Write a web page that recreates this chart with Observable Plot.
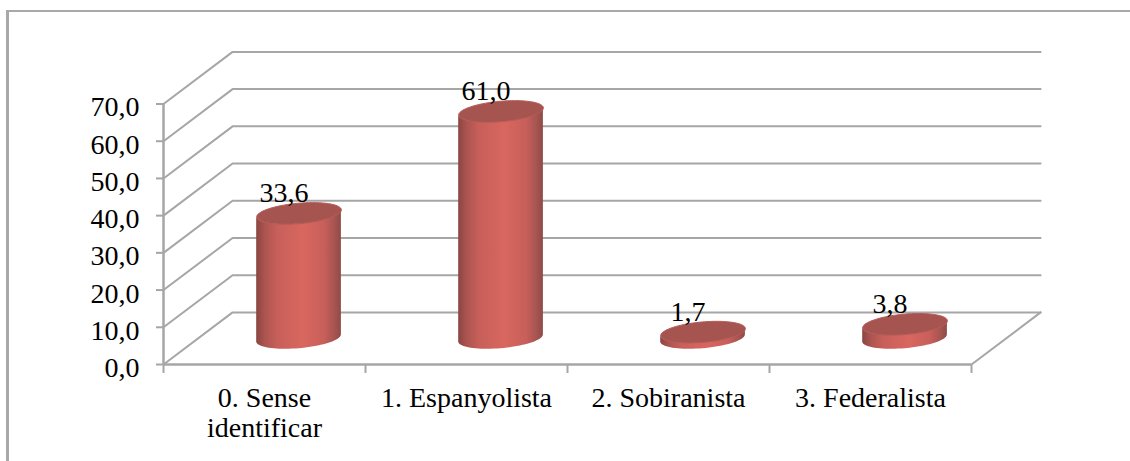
<!DOCTYPE html>
<html><head><meta charset="utf-8">
<style>
html,body{margin:0;padding:0;background:#fff;overflow:hidden}
#chart{position:relative;width:1130px;height:461px}
#frame{position:absolute;left:6px;top:10px;right:0;bottom:0;border-left:3px solid #a9a9a9;border-top:2px solid #a9a9a9}
#chart svg{position:absolute;left:0;top:0;overflow:visible}
</style>
<script src="https://cdn.jsdelivr.net/npm/d3@7"></script>
<script src="https://cdn.jsdelivr.net/npm/@observablehq/plot@0.6"></script>
</head><body>
<div id="chart"><div id="frame"></div></div>
<script>
const categories = ["0. Sense\nidentificar", "1. Espanyolista", "2. Sobiranista", "3. Federalista"];
const values = [33.6, 61.0, 1.7, 3.8];
const valueTicks = [0, 10, 20, 30, 40, 50, 60, 70];
const slots = [0, 1, 2, 3];
const slotEdges = [0, 1, 2, 3, 4];

// 3D depth of the chart box, in scale units
const depthX = 0.342, depthY = 14;
const comma = d => d.toFixed(1).replace(".", ",");

const W = 1130, H = 461, mL = 163, mR = 159, mT = 103.5, mB = 97;
const pxX = (W - mL - mR) / 4, pxY = (H - mT - mB) / 70;

// cylinder geometry (px, tilted ellipse)
const rx = 42.5, ry = 10.2, tilt = -5 * Math.PI / 180;
const t0 = Math.atan2(-ry * Math.sin(tilt), rx * Math.cos(tilt));
const arc = d3.range(0, 41).map(i => {
  const t = t0 + Math.PI * (1 - i / 40);
  return {
    ox: rx * Math.cos(t) * Math.cos(tilt) - ry * Math.sin(t) * Math.sin(tilt),
    oy: rx * Math.cos(t) * Math.sin(tilt) + ry * Math.sin(t) * Math.cos(tilt)
  };
});
const centerX = i => i + 0.5 + depthX / 2;
const base = depthY / 2;

const grid = valueTicks.flatMap(v => [
  {v, x: 0, y: v},
  {v, x: depthX, y: v + depthY},
  {v, x: 4 + depthX, y: v + depthY}
]);
const floorEdge = [{x: 4, y: 0}, {x: 4 + depthX, y: depthY}];
const bodies = slots.flatMap(i => arc.map(p => ({
  i,
  x: centerX(i) + p.ox / pxX,
  y1: base - p.oy / pxY,
  y2: base - p.oy / pxY + values[i]
})));
const tops = slots.map(i => ({i, x: centerX(i), y: base + values[i], label: comma(values[i])}));

const ellipse = {
  draw(ctx, size) {
    const k = Math.sqrt(size / Math.PI) / rx;
    for (let j = 0; j <= 72; ++j) {
      const t = j / 72 * 2 * Math.PI;
      const X = k * (rx * Math.cos(t) * Math.cos(tilt) - ry * Math.sin(t) * Math.sin(tilt));
      const Y = k * (rx * Math.cos(t) * Math.sin(tilt) + ry * Math.sin(t) * Math.cos(tilt));
      j ? ctx.lineTo(X, Y) : ctx.moveTo(X, Y);
    }
    ctx.closePath();
  }
};

const defs = () => {
  const d = d3.create("svg:defs");
  const g = d.append("linearGradient").attr("id", "cyl").attr("x1", 0).attr("x2", 1).attr("y1", 0).attr("y2", 0);
  [[0, "#8a4542"], [0.1, "#ac5450"], [0.25, "#c85f5a"], [0.55, "#d8675f"], [0.8, "#c85f5a"], [0.93, "#a55450"], [1, "#8f4a47"]]
    .forEach(([o, c]) => g.append("stop").attr("offset", o).attr("stop-color", c));
  return d.node();
};

const gray = "#a6a6a6";
const fs = 28;
const plot = Plot.plot({
  width: W, height: H,
  marginLeft: mL, marginRight: mR, marginTop: mT, marginBottom: mB,
  style: {background: "transparent", fontFamily: "'Liberation Serif', serif", fontSize: fs + "px", color: "#000"},
  x: {domain: [0, 4]},
  y: {domain: [0, 70]},
  marks: [
    defs,
    Plot.line(grid, {x: "x", y: "y", z: "v", stroke: gray, strokeWidth: 2, curve: "linear"}),
    Plot.line(floorEdge, {x: "x", y: "y", stroke: gray, strokeWidth: 2}),
    Plot.ruleX([0], {stroke: gray, strokeWidth: 2.5}),
    Plot.ruleY([0], {stroke: gray, strokeWidth: 2.5}),
    Plot.axisY({ticks: valueTicks, tickSize: 7, stroke: gray, strokeWidth: 2, text: null}),
    Plot.axisY({ticks: valueTicks, tickSize: 0, tickPadding: 24, dy: 3.5, fill: "#000", tickFormat: comma, fontSize: fs, label: null}),
    Plot.axisX({ticks: slotEdges, tickSize: 9, stroke: gray, strokeWidth: 2, tickFormat: () => "", label: null}),
    Plot.axisX({ticks: slots.map(i => i + 0.5), tickSize: 0, tickPadding: 21, fill: "#000", lineHeight: 1.07, lineAnchor: "top",
      tickFormat: d => categories[Math.floor(d)], fontSize: fs, label: null}),
    Plot.areaY(bodies, {x: "x", y1: "y1", y2: "y2", z: "i", fill: "url(#cyl)", curve: "linear"}),
    Plot.dot(tops, {x: "x", y: "y", r: rx, symbol: ellipse, fill: "#a5544f", stroke: "#b65c57", strokeWidth: 1}),
    Plot.text(tops, {x: "x", y: "y", text: "label", dx: -15, dy: -20, fontSize: fs, fill: "#000"})
  ]
});
document.getElementById("chart").appendChild(plot);
</script>
</body></html>
